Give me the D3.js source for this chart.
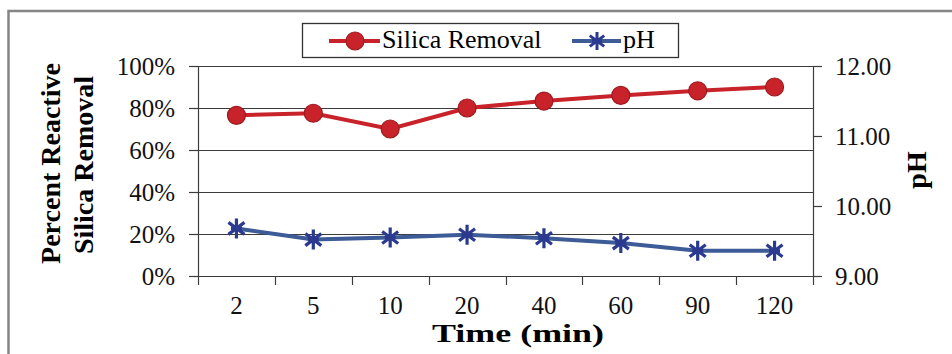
<!DOCTYPE html>
<html>
<head>
<meta charset="utf-8">
<script src="https://cdn.jsdelivr.net/npm/d3@7"></script>
<style>
  html, body { margin: 0; padding: 0; background: #fff; }
  svg { display: block; }
</style>
</head>
<body>
<svg id="chart" width="952" height="354"></svg>
<script>
const categories = ["2", "5", "10", "20", "40", "60", "90", "120"];
const silicaRemoval = [76.5, 77.5, 70, 80, 83.3, 86, 88.2, 90];
const pHValues = [9.68, 9.52, 9.55, 9.59, 9.54, 9.47, 9.36, 9.36];
const leftTicks = [0, 20, 40, 60, 80, 100];
const rightTicks = [9, 10, 11, 12];
const seriesNames = ["Silica Removal", "pH"];
const xTitle = "Time (min)";
const yLeftTitle = ["Percent Reactive", "Silica Removal"];
const yRightTitle = "pH";

const FONT = "'Liberation Serif'";
const svg = d3.select("#chart");
const plot = { left: 198, right: 813, top: 66, bottom: 276 };

// outer frame
svg.append("rect").attr("x", 8.5).attr("y", 11).attr("width", 960).attr("height", 360)
  .attr("fill", "none").attr("stroke", "#858585").attr("stroke-width", 2.5);

const x = d3.scaleBand().domain(categories).range([plot.left, plot.right]).padding(0);
const yL = d3.scaleLinear().domain([0, 100]).range([plot.bottom, plot.top]);
const yR = d3.scaleLinear().domain([9, 12]).range([plot.bottom, plot.top]);

const gridColor = "#3c3c3c";
const styleTicks = g => g.selectAll(".tick text")
  .style("font-family", FONT).style("font-size", "25px").style("fill", "#111");

// gridlines
svg.append("g").selectAll("line").data(leftTicks.filter(d => d > 0)).join("line")
  .attr("x1", plot.left).attr("x2", plot.right)
  .attr("y1", d => Math.round(yL(d)) + 0.5).attr("y2", d => Math.round(yL(d)) + 0.5)
  .attr("stroke", gridColor).attr("stroke-width", 1.2);

// left axis
const gL = svg.append("g").attr("transform", `translate(${plot.left},0)`)
  .call(d3.axisLeft(yL).tickValues(leftTicks).tickFormat(d => d + "%").tickSize(9).tickPadding(14));
gL.select(".domain").remove();
gL.selectAll(".tick line").attr("stroke", gridColor).attr("stroke-width", 1.2);
styleTicks(gL);
svg.append("line").attr("x1", plot.left + 0.5).attr("x2", plot.left + 0.5)
  .attr("y1", plot.top).attr("y2", plot.bottom + 9).attr("stroke", gridColor).attr("stroke-width", 1.2);

// right axis
const gR = svg.append("g").attr("transform", `translate(${plot.right},0)`)
  .call(d3.axisRight(yR).tickValues(rightTicks).tickFormat(d3.format(".2f")).tickSize(9).tickPadding(13));
gR.select(".domain").remove();
gR.selectAll(".tick line").attr("stroke", gridColor).attr("stroke-width", 1.2);
styleTicks(gR);
svg.append("line").attr("x1", plot.right + 0.5).attr("x2", plot.right + 0.5)
  .attr("y1", plot.top).attr("y2", plot.bottom + 9).attr("stroke", gridColor).attr("stroke-width", 1.2);

// x axis
const gX = svg.append("g").attr("transform", `translate(0,${plot.bottom})`)
  .call(d3.axisBottom(x).tickSize(0).tickPadding(20));
gX.select(".domain").remove();
styleTicks(gX);
svg.append("line").attr("x1", plot.left).attr("x2", plot.right)
  .attr("y1", plot.bottom + 0.5).attr("y2", plot.bottom + 0.5).attr("stroke", gridColor).attr("stroke-width", 1.2);
const bounds = categories.slice(1).map(c => x(c));
svg.append("g").selectAll("line").data(bounds).join("line")
  .attr("x1", d => Math.round(d) + 0.5).attr("x2", d => Math.round(d) + 0.5)
  .attr("y1", plot.bottom).attr("y2", plot.bottom + 9)
  .attr("stroke", gridColor).attr("stroke-width", 1.2);

const cx = c => x(c) + x.bandwidth() / 2;

// silica line
const red = "#c8232a", redDark = "#9e1a1f";
svg.append("path").datum(silicaRemoval)
  .attr("d", d3.line().x((d, i) => cx(categories[i])).y(d => yL(d)))
  .attr("fill", "none").attr("stroke", red).attr("stroke-width", 4);
svg.append("g").selectAll("circle").data(silicaRemoval).join("circle")
  .attr("cx", (d, i) => cx(categories[i])).attr("cy", d => yL(d)).attr("r", 9)
  .attr("fill", red).attr("stroke", redDark).attr("stroke-width", 1.2);

// pH line
const blue = "#3d5b97", navy = "#2b3a8e";
svg.append("path").datum(pHValues)
  .attr("d", d3.line().x((d, i) => cx(categories[i])).y(d => yR(d)))
  .attr("fill", "none").attr("stroke", blue).attr("stroke-width", 4);
function star(s) {
  const a = s * 0.8;
  return `M0,${-s}L0,${s}M${-a},${-a * 0.75}L${a},${a * 0.75}M${-a},${a * 0.75}L${a},${-a * 0.75}M${-s * 0.55},0L${s * 0.55},0`;
}
svg.append("g").selectAll("path").data(pHValues).join("path")
  .attr("transform", (d, i) => `translate(${cx(categories[i])},${yR(d)})`)
  .attr("d", star(10)).attr("fill", "none").attr("stroke", navy).attr("stroke-width", 3.2);

// legend
const lg = svg.append("g");
lg.append("rect").attr("x", 302.5).attr("y", 23.5).attr("width", 376).attr("height", 34)
  .attr("fill", "#fff").attr("stroke", "#333").attr("stroke-width", 1.3);
lg.append("line").attr("x1", 329).attr("x2", 380).attr("y1", 41).attr("y2", 41)
  .attr("stroke", red).attr("stroke-width", 4);
lg.append("circle").attr("cx", 355).attr("cy", 41).attr("r", 9).attr("fill", red)
  .attr("stroke", redDark).attr("stroke-width", 1.2);
lg.append("text").attr("x", 382).attr("y", 48).style("font-family", FONT).style("font-size", "26px")
  .text(seriesNames[0]);
lg.append("line").attr("x1", 572).attr("x2", 621).attr("y1", 41).attr("y2", 41)
  .attr("stroke", blue).attr("stroke-width", 4);
lg.append("path").attr("transform", "translate(597,41)").attr("d", star(9))
  .attr("fill", "none").attr("stroke", navy).attr("stroke-width", 3);
lg.append("text").attr("x", 623).attr("y", 48).style("font-family", FONT).style("font-size", "26px")
  .text(seriesNames[1]);

// axis titles
const boldText = (t) => svg.append("text").attr("text-anchor", "middle")
  .style("font-family", FONT).style("font-size", "28px").style("font-weight", "bold").text(t);
boldText(xTitle).attr("x", 518).attr("y", 342).style("font-size", "25px")
  .attr("textLength", 172).attr("lengthAdjust", "spacingAndGlyphs");
boldText(yLeftTitle[0]).attr("transform", "translate(60,163.5) rotate(-90)");
boldText(yLeftTitle[1]).attr("transform", "translate(93,165) rotate(-90)");
boldText(yRightTitle).attr("transform", "translate(926,170) rotate(-90)");
</script>
</body>
</html>
